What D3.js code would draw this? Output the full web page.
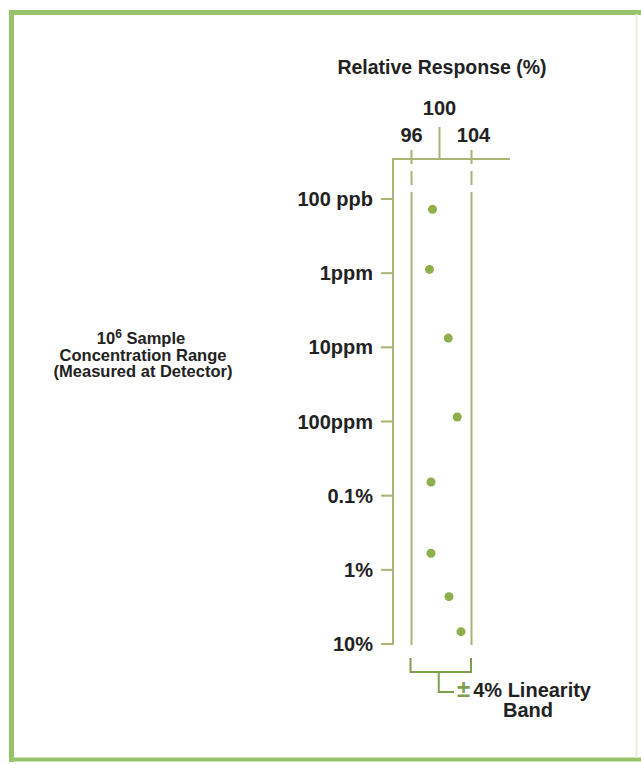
<!DOCTYPE html>
<html>
<head>
<meta charset="utf-8">
<script src="https://cdn.jsdelivr.net/npm/d3@7"></script>
<style>
  html, body { margin: 0; padding: 0; background: #fff; }
  svg { display: block; }
  text { font-family: "Liberation Sans", Arial, sans-serif; font-weight: bold; fill: #222; }
</style>
</head>
<body>
<svg id="chart" width="641" height="765"></svg>
<script>
// ---- data ----
const categories = ["100 ppb", "1ppm", "10ppm", "100ppm", "0.1%", "1%", "10%"];
const categoryPpm = [0.1, 1, 10, 100, 1000, 10000, 100000];
const xTicks = [96, 100, 104];
const pointPpm = [0.138, 0.89, 7.5, 87, 655, 5980, 23000, 68200];
const pointResponse = [98.8, 98.4, 100.9, 102.1, 98.6, 98.6, 101.0, 102.6];
const bandLimits = [96, 104];

const svg = d3.select("#chart");
const axisColor = "#a9b475";
const dotColor = "#8fae4c";
const bracketColor = "#7e9f50";
const frameColor = "#96c46a";

// frame
svg.append("line").attr("x1", 9).attr("x2", 641).attr("y1", 12.5).attr("y2", 12.5)
  .attr("stroke", frameColor).attr("stroke-width", 5);
svg.append("line").attr("x1", 11.5).attr("x2", 11.5).attr("y1", 10).attr("y2", 762)
  .attr("stroke", frameColor).attr("stroke-width", 5);
svg.append("line").attr("x1", 9).attr("x2", 641).attr("y1", 759.5).attr("y2", 759.5)
  .attr("stroke", frameColor).attr("stroke-width", 4);
svg.append("line").attr("x1", 636.5).attr("x2", 636.5).attr("y1", 14).attr("y2", 758)
  .attr("stroke", "#e6f0da").attr("stroke-width", 2);

// scales
const x = d3.scaleLinear().domain([96, 104]).range([411.5, 471.5]);
const y = d3.scaleLog().domain([0.1, 100000]).range([199, 644]);

const axisLeftX = 393, axisTopY = 159, axisBottomY = 645, axisRightX = 510;

// title
svg.append("text").attr("x", 442).attr("y", 74).attr("text-anchor", "middle")
  .style("font-size", "19.5px").text("Relative Response (%)");

// top axis line & left axis line
svg.append("line").attr("x1", axisLeftX).attr("x2", axisRightX)
  .attr("y1", axisTopY).attr("y2", axisTopY).attr("stroke", axisColor).attr("stroke-width", 2);
svg.append("line").attr("x1", axisLeftX).attr("x2", axisLeftX)
  .attr("y1", axisTopY - 1).attr("y2", axisBottomY).attr("stroke", axisColor).attr("stroke-width", 2);

// x ticks
xTicks.forEach(v => {
  const g = svg.append("g");
  if (v === 100) {
    g.append("line").attr("x1", x(v) - 2).attr("x2", x(v) - 2).attr("y1", 127).attr("y2", axisTopY)
      .attr("stroke", axisColor).attr("stroke-width", 2);
    g.append("text").attr("x", x(v) - 2).attr("y", 115).attr("text-anchor", "middle")
      .style("font-size", "20px").text(v);
  } else {
    g.append("line").attr("x1", x(v)).attr("x2", x(v)).attr("y1", 150).attr("y2", 196)
      .attr("stroke", axisColor).attr("stroke-width", 2).attr("stroke-dasharray", "14,7");
    g.append("line").attr("x1", x(v)).attr("x2", x(v)).attr("y1", 196).attr("y2", axisBottomY)
      .attr("stroke", axisColor).attr("stroke-width", 2);
    g.append("text").attr("x", x(v) + (v === 104 ? 2 : 0)).attr("y", 142).attr("text-anchor", "middle")
      .style("font-size", "20px").text(v);
  }
});

// y ticks and labels
categories.forEach((c, i) => {
  const yy = y(categoryPpm[i]);
  svg.append("line").attr("x1", axisLeftX - 12).attr("x2", axisLeftX)
    .attr("y1", yy).attr("y2", yy).attr("stroke", axisColor).attr("stroke-width", 2);
  svg.append("text").attr("x", 373).attr("y", yy + 7).attr("text-anchor", "end")
    .style("font-size", "20px").text(c);
});

// left title
const lt = svg.append("text").attr("text-anchor", "middle").style("font-size", "16.5px");
const l1 = lt.append("tspan").attr("x", 141).attr("y", 344);
l1.append("tspan").text("10");
l1.append("tspan").attr("dy", -6).style("font-size", "12px").text("6");
l1.append("tspan").attr("dy", 6).text(" Sample");
lt.append("tspan").attr("x", 143).attr("y", 360.5).text("Concentration Range");
lt.append("tspan").attr("x", 143).attr("y", 377).text("(Measured at Detector)");

// points
svg.append("g").selectAll("circle")
  .data(pointPpm.map((p, i) => ({ p, r: pointResponse[i] })))
  .join("circle")
  .attr("cx", d => x(d.r))
  .attr("cy", d => y(d.p))
  .attr("r", 4.5)
  .attr("fill", dotColor);

// linearity band bracket
const bx0 = x(bandLimits[0]) - 1, bx1 = x(bandLimits[1]) - 0.5;
const bMid = (bx0 + bx1) / 2;
svg.append("path")
  .attr("d", `M${bx0},658 V672 H${bx1} V658 M${bMid - 2},672 V692 H454`)
  .attr("fill", "none").attr("stroke", bracketColor).attr("stroke-width", 2);

const bt = svg.append("text").attr("x", 457).attr("y", 697).style("font-size", "20px");
bt.append("tspan").style("fill", bracketColor).style("font-size", "24px").text("±");
bt.append("tspan").attr("dx", 3).text("4% Linearity");
svg.append("text").attr("x", 528).attr("y", 717).attr("text-anchor", "middle")
  .style("font-size", "20px").text("Band");
</script>
</body>
</html>
